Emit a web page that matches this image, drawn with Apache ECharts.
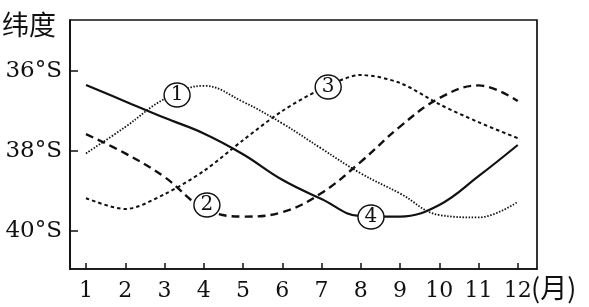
<!DOCTYPE html>
<html>
<head>
<meta charset="utf-8">
<script src="https://cdn.jsdelivr.net/npm/echarts@6/dist/echarts.min.js"></script>
<style>
  html, body { margin: 0; padding: 0; background: #fff; }
  #chart { width: 589px; height: 307px; }
</style>
</head>
<body>
<div id="chart"></div>
<script>
// Data (latitude in °S)
const months = [1, 2, 3, 4, 5, 6, 7, 8, 9, 10, 11, 12];
const yTicks = [36, 38, 40];
const curve1 = [38.06, 37.40, 36.70, 36.37, 36.77, 37.31, 37.94, 38.56, 39.06, 39.60, 39.66, 39.27];
const curve2 = [37.58, 38.06, 38.65, 39.43, 39.64, 39.53, 39.05, 38.27, 37.39, 36.68, 36.36, 36.75];
const curve3 = [39.18, 39.45, 39.08, 38.50, 37.73, 37.00, 36.45, 36.10, 36.30, 36.83, 37.28, 37.68];
const curve4 = [36.35, 36.76, 37.17, 37.56, 38.08, 38.72, 39.20, 39.63, 39.64, 39.35, 38.63, 37.85];
const labelNames = ['1', '2', '3', '4'];
const labelPoints = [[3.32, 36.6], [4.08, 39.35], [7.17, 36.4], [8.26, 39.65]];

const pairs = arr => months.map((m, i) => [m, arr[i]]);
const serif = '"DejaVu Serif", "Liberation Serif", serif';

const chart = echarts.init(document.getElementById('chart'));
chart.setOption({
  animation: false,
  backgroundColor: '#fff',
  grid: { left: 70, top: 20, right: 52, bottom: 38, show: true, borderColor: '#111', borderWidth: 1.7, backgroundColor: 'transparent' },
  xAxis: {
    type: 'value', min: 0.592, max: 12.49,
    axisLine: { show: true, lineStyle: { color: '#111', width: 1.7 } },
    axisTick: { show: true, inside: true, length: 6, customValues: months, lineStyle: { color: '#111', width: 1.5 } },
    axisLabel: { customValues: months, color: '#111', fontFamily: serif, fontSize: 22, margin: 11 },
    splitLine: { show: false }
  },
  yAxis: {
    type: 'value', inverse: true, min: 34.725, max: 40.95,
    axisLine: { show: true, lineStyle: { color: '#111', width: 1.7 } },
    axisTick: { show: true, inside: true, length: 8, customValues: yTicks, lineStyle: { color: '#111', width: 1.5 } },
    axisLabel: { customValues: yTicks, color: '#111', fontFamily: serif, fontSize: 23, margin: 8, formatter: v => v + '°S' },
    splitLine: { show: false }
  },
  graphic: [
    { type: 'text', left: 2, top: 11, style: { text: '纬度', font: '27px "Noto Sans CJK SC", serif', fill: '#111' } },
    { type: 'text', left: 531, top: 274, style: { text: '(月)', font: '27px "Noto Sans CJK SC", serif', fill: '#111' } }
  ],
  series: [
    { type: 'line', data: pairs(curve1), smooth: 0.4, symbol: 'none', lineStyle: { color: '#111', width: 1.8, type: [1.5, 1.6] }, z: 2 },
    { type: 'line', data: pairs(curve2), smooth: 0.4, symbol: 'none', lineStyle: { color: '#111', width: 2.4, type: [8, 5] }, z: 2 },
    { type: 'line', data: pairs(curve3), smooth: 0.3, symbol: 'none', lineStyle: { color: '#111', width: 2, type: [3.5, 3] }, z: 2 },
    { type: 'line', data: pairs(curve4), smooth: 0.4, symbol: 'none', lineStyle: { color: '#111', width: 2.2, type: 'solid' }, z: 2 },
    {
      type: 'scatter', z: 5,
      data: labelPoints.map((p, i) => ({ value: p, name: labelNames[i] })),
      symbol: 'circle', symbolSize: [26, 24],
      itemStyle: { color: '#fff', borderColor: '#111', borderWidth: 1.4, opacity: 1 },
      label: { show: true, position: 'inside', formatter: p => p.name, color: '#111', fontFamily: serif, fontSize: 20 }
    }
  ]
});
</script>
</body>
</html>
